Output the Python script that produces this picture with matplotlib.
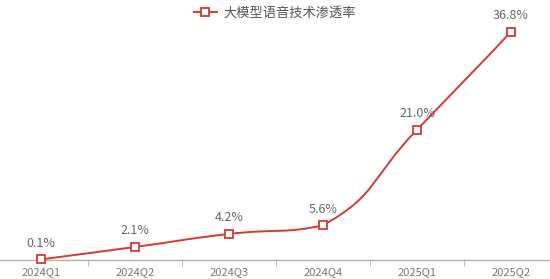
import numpy as np
import matplotlib
matplotlib.use("Agg")
import matplotlib.pyplot as plt
from matplotlib.path import Path
from matplotlib.patches import PathPatch
from matplotlib.lines import Line2D

plt.rcParams['font.family'] = ['Noto Sans CJK SC', 'DejaVu Sans']

# data
quarters = ['2024Q1', '2024Q2', '2024Q3', '2024Q4', '2025Q1', '2025Q2']
rate = [0.1, 2.1, 4.2, 5.6, 21.0, 36.8]
series_name = '大模型语音技术渗透率'

red = '#d63a2e'
grey_text = '#666666'

fig = plt.figure(figsize=(5.5, 2.79), dpi=100)
ax = fig.add_axes([-6 / 550, 19 / 279, 564 / 550, 248 / 279])
x = np.arange(len(quarters))
ax.set_xlim(-0.5, len(quarters) - 0.5)
ax.set_ylim(0, 40)

# smoothed line (echarts-like, smooth = 0.5), control points in pixel space,
# clamped so each segment stays monotone
pts = ax.transData.transform(np.column_stack([x, rate]))
smooth = 0.5
verts = [pts[0]]
codes = [Path.MOVETO]
n = len(pts)
for i in range(n - 1):
    cur, nxt = pts[i], pts[i + 1]
    prev = pts[i - 1] if i > 0 else cur
    v = nxt - prev
    l0 = np.hypot(*(cur - prev))
    l1 = np.hypot(*(nxt - cur))
    c1 = cur + v * smooth * l1 / (l0 + l1)
    if i + 1 == n - 1:
        c2 = nxt.copy()
    else:
        nn = pts[i + 2]
        v2 = nn - cur
        m0 = np.hypot(*(nxt - cur))
        m1 = np.hypot(*(nn - nxt))
        c2 = nxt - v2 * smooth * m0 / (m0 + m1)
    lo, hi = min(cur[1], nxt[1]), max(cur[1], nxt[1])
    c1[1] = np.clip(c1[1], lo, hi)
    c2[1] = np.clip(c2[1], lo, hi)
    verts += [c1, c2, nxt]
    codes += [Path.CURVE4] * 3
verts = ax.transData.inverted().transform(np.array(verts))
ax.add_patch(PathPatch(Path(verts, codes), facecolor='none', edgecolor=red, lw=1.4, zorder=2))

ax.plot(x, rate, ls='none', marker='s', ms=5.5, mfc='white', mec=red, mew=1.3, zorder=3, clip_on=False)

for xi, yi in zip(x, rate):
    ax.annotate(f'{yi:.1f}%', (xi, yi), xytext=(0, 7), textcoords='offset points',
                ha='center', va='bottom', fontsize=9, color=grey_text)

for s in ['top', 'right', 'left']:
    ax.spines[s].set_visible(False)
ax.spines['bottom'].set_color('#b0b0b0')
ax.spines['bottom'].set_linewidth(1.0)
ax.set_yticks([])
ax.set_xticks(x)
ax.set_xticklabels(quarters, fontsize=8, color='#777777')
ax.tick_params(axis='x', which='major', length=0, pad=5)
ax.set_xticks(np.arange(-0.5, len(quarters)), minor=True)
ax.tick_params(axis='x', which='minor', length=4, color='#b0b0b0')

handle = Line2D([], [], color=red, lw=1.4, marker='s', ms=5.5, mfc='white', mec=red, mew=1.3)
fig.legend([handle], [series_name], loc='upper center', bbox_to_anchor=(0.5, 1.02), frameon=False,
           fontsize=9.5, labelcolor='#555555', handlelength=1.8, handletextpad=0.5)

fig.savefig('out.png', dpi=100)
